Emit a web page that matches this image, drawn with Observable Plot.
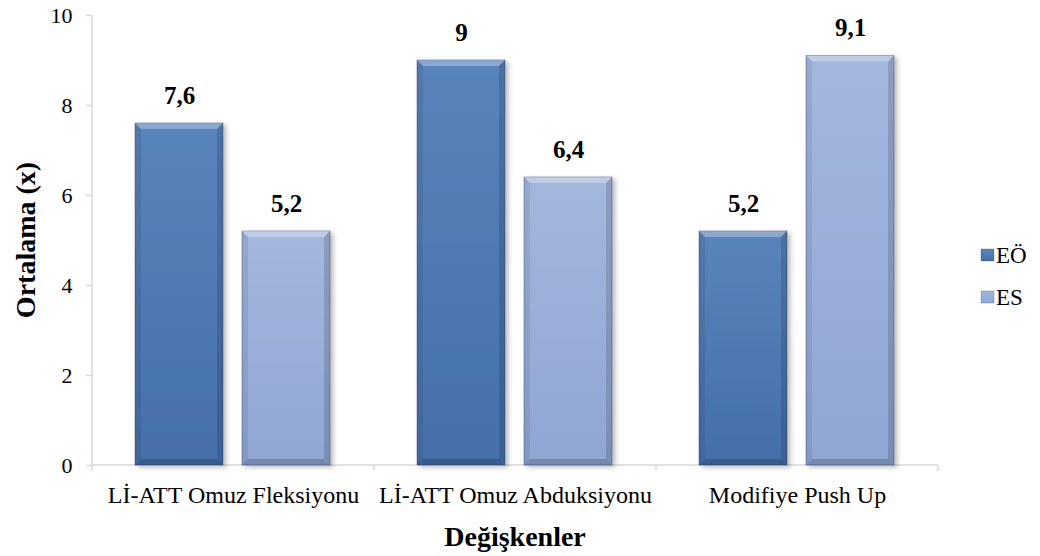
<!DOCTYPE html>
<html>
<head>
<meta charset="utf-8">
<script src="https://cdn.jsdelivr.net/npm/d3@7"></script>
<script src="https://cdn.jsdelivr.net/npm/@observablehq/plot@0.6"></script>
<style>
  body { margin: 0; background: #fff; }
  #chart { width: 1040px; height: 556px; }
</style>
</head>
<body>
<div id="chart"></div>
<script>
// Mean scores per test, for the two groups
const categories = ["Lİ-ATT Omuz Fleksiyonu", "Lİ-ATT Omuz Abduksiyonu", "Modifiye Push Up"];
const series = ["EÖ", "ES"];
const valuesEO = [7.6, 9, 5.2];
const valuesES = [5.2, 6.4, 9.1];
const yTicks = [0, 2, 4, 6, 8, 10];
const yTitle = "Ortalama (x)";
const xTitle = "Değişkenler";

const rows = categories.flatMap((c, i) => [
  {category: c, group: "EÖ", value: valuesEO[i]},
  {category: c, group: "ES", value: valuesES[i]}
]);

const serif = "Liberation Serif";
const gradIds = {"EÖ": "grad-eo", "ES": "grad-es"};
const shades = {
  "EÖ": {top: "#5a84bb", bottom: "#456faa"},
  "ES": {top: "#a3b7de", bottom: "#8fa6d3"}
};

const chart = Plot.plot({
  width: 1040,
  height: 556,
  marginTop: 15,
  marginBottom: 91,
  marginLeft: 91,
  marginRight: 102,
  style: {fontFamily: serif, background: "#fff", color: "#000", overflow: "visible"},
  fx: {domain: categories, padding: 0, label: null},
  x: {domain: series, paddingInner: 0.176, paddingOuter: 0.4, axis: null},
  y: {domain: [0, 10], label: null},
  color: {domain: series, range: series.map(s => `url(#${gradIds[s]})`)},
  marks: [
    Plot.axisY({ticks: yTicks, tickSize: 6, tickPadding: 14, fontSize: 22, fontFamily: serif, stroke: "#d9d9d9", strokeWidth: 1.5, fill: "#000", label: null}),
    Plot.axisFx({anchor: "bottom", tickSize: 0, tickPadding: 20, fontSize: 24, fontFamily: serif, fill: "#000", label: null}),
    Plot.barY(rows, {fx: "category", x: "group", y: "value", fill: "group"}),
    Plot.text(rows, {
      fx: "category", x: "group", y: "value",
      text: d => String(d.value).replace(".", ","),
      dy: -28, fontSize: 25, fontWeight: "bold", fontFamily: serif, fill: "#000"
    })
  ]
});

document.getElementById("chart").append(chart);

const svg = d3.select(chart);
const fx = chart.scale("fx");
const y = chart.scale("y");
const y0 = y.apply(0);
const yTop = y.apply(10);
const left = fx.apply(categories[0]);
const right = fx.apply(categories[categories.length - 1]) + fx.bandwidth;

// gradients and shadow
const defs = svg.insert("defs", ":first-child");
for (const s of series) {
  const g = defs.append("linearGradient").attr("id", gradIds[s]).attr("x1", 0).attr("y1", 0).attr("x2", 0).attr("y2", 1);
  g.append("stop").attr("offset", "0%").attr("stop-color", shades[s].top);
  g.append("stop").attr("offset", "100%").attr("stop-color", shades[s].bottom);
}
const f = defs.append("filter").attr("id", "bar-shadow").attr("x", "-20%").attr("y", "-20%").attr("width", "150%").attr("height", "150%");
f.append("feDropShadow").attr("dx", 3).attr("dy", 2).attr("stdDeviation", 2.5).attr("flood-color", "#000").attr("flood-opacity", 0.28);

// axis lines and category boundary ticks, drawn beneath the bars
const axisG = svg.insert("g", "g[aria-label='bar']").attr("stroke", "#d9d9d9").attr("stroke-width", 1.5).attr("fill", "none");
axisG.append("line").attr("x1", left).attr("x2", left).attr("y1", yTop).attr("y2", y0);
axisG.append("line").attr("x1", left).attr("x2", right).attr("y1", y0).attr("y2", y0);
const bounds = categories.map(c => fx.apply(c)).concat([right]);
for (const b of bounds) axisG.append("line").attr("x1", b).attr("x2", b).attr("y1", y0).attr("y2", y0 + 6);

// bevelled bar faces
svg.selectAll("g[aria-label='bar'] rect").each(function() {
  const r = d3.select(this);
  const x = +r.attr("x"), yy = +r.attr("y"), w = +r.attr("width"), h = +r.attr("height");
  r.attr("filter", "url(#bar-shadow)").attr("stroke", "rgba(30,50,90,0.45)").attr("stroke-width", 0.8);
  const b = 6;
  const bevel = d3.select(this.parentNode).append("g").attr("pointer-events", "none");
  const poly = (pts, fill) => bevel.append("polygon").attr("points", pts.map(q => q.join(",")).join(" ")).attr("fill", fill);
  poly([[x, yy], [x + w, yy], [x + w - b, yy + b], [x + b, yy + b]], "rgba(255,255,255,0.30)");
  poly([[x, yy], [x + b, yy + b], [x + b, yy + h - b], [x, yy + h]], "rgba(0,0,0,0.08)");
  poly([[x + w, yy], [x + w, yy + h], [x + w - b, yy + h - b], [x + w - b, yy + b]], "rgba(0,0,0,0.14)");
  poly([[x, yy + h], [x + b, yy + h - b], [x + w - b, yy + h - b], [x + w, yy + h]], "rgba(0,0,0,0.18)");
});

// axis titles
svg.append("text")
  .attr("transform", `translate(25,${(yTop + y0) / 2}) rotate(-90)`)
  .attr("text-anchor", "middle").attr("dominant-baseline", "central")
  .attr("font-size", 28).attr("font-weight", "bold")
  .text(yTitle);
svg.append("text")
  .attr("x", (left + right) / 2).attr("y", 546)
  .attr("text-anchor", "middle")
  .attr("font-size", 28).attr("font-weight", "bold")
  .text(xTitle);

// legend
const legend = svg.append("g").attr("font-size", 23).attr("text-anchor", "start");
series.forEach((s, i) => {
  const cy = 255 + i * 42;
  legend.append("rect").attr("x", 981).attr("y", cy - 6).attr("width", 13).attr("height", 12)
    .attr("fill", `url(#${gradIds[s]})`).attr("stroke", "rgba(30,50,90,0.4)").attr("stroke-width", 0.6);
  legend.append("text").attr("x", 996).attr("y", cy).attr("dominant-baseline", "central").text(s);
});

// one serif face for every label
svg.selectAll("text").attr("font-family", serif).style("font-family", serif);
</script>
</body>
</html>
